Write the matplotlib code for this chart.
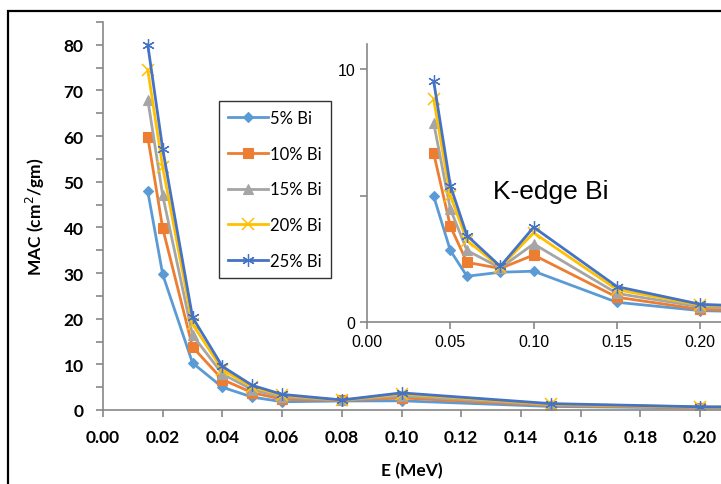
import matplotlib
matplotlib.use("Agg")
import matplotlib.pyplot as plt
from matplotlib.patches import Rectangle
import numpy as np

# ---- data ----
energy = [0.015, 0.02, 0.03, 0.04, 0.05, 0.06, 0.08, 0.10, 0.15, 0.20, 0.30]
series_names = ["5% Bi", "10% Bi", "15% Bi", "20% Bi", "25% Bi"]
bi5  = [47.9, 29.7, 10.3, 4.98, 2.83, 1.81, 1.97, 2.01, 0.78, 0.45, 0.30]
bi10 = [59.8, 39.8, 13.8, 6.68, 3.79, 2.36, 2.12, 2.65, 0.98, 0.50, 0.33]
bi15 = [68.0, 47.0, 16.4, 7.88, 4.47, 2.83, 2.14, 3.09, 1.13, 0.60, 0.38]
bi20 = [74.5, 53.2, 18.8, 8.81, 5.00, 3.22, 2.17, 3.53, 1.28, 0.67, 0.42]
bi25 = [80.0, 57.2, 20.3, 9.53, 5.40, 3.42, 2.20, 3.75, 1.40, 0.70, 0.45]
main_xticks = [0.00, 0.02, 0.04, 0.06, 0.08, 0.10, 0.12, 0.14, 0.16, 0.18, 0.20]
main_yticks = [0, 10, 20, 30, 40, 50, 60, 70, 80]
inset_xticks = [0.00, 0.05, 0.10, 0.15, 0.20]
inset_start = 3  # inset starts at 0.04 MeV

colors = ["#5B9BD5", "#ED7D31", "#A5A5A5", "#FFC000", "#4472C4"]
markers = ["D", "s", "^", "x", (6, 2, 0)]
msizes = [5, 7, 7, 8, 9]
mews = [0.8, 0.8, 0.8, 1.1, 0.9]
series = [bi5, bi10, bi15, bi20, bi25]

W, H = 721, 485
fig = plt.figure(figsize=(W / 100, H / 100), dpi=100)

# chart border (left and top visible)
fig.patches.append(Rectangle((8 / W, -0.1), 1.2, (H - 12) / H + 0.1, transform=fig.transFigure,
                             fill=False, edgecolor="black", linewidth=1.6, zorder=0))

def px_axes(l, t, r, b):
    return fig.add_axes([l / W, 1 - b / H, (r - l) / W, (b - t) / H])

grey = "#888888"
ax = px_axes(103, 23, 721, 411)
for s, c, m, ms, mew, name in zip(series, colors, markers, msizes, mews, series_names):
    ax.plot(energy, s, color=c, marker=m, markersize=ms, linewidth=2, label=name,
            markeredgewidth=mew)
ax.set_xlim(0, (721 - 103) / 2985.0)
ax.set_ylim(0, 85)
ax.set_xticks(main_xticks)
ax.set_xticklabels([f"{v:.2f}" for v in main_xticks])
ax.set_yticks(main_yticks)
ax.set_yticks(np.arange(0, 86, 5), minor=True)
for sp in ["top", "right"]:
    ax.spines[sp].set_visible(False)
for sp in ["left", "bottom"]:
    ax.spines[sp].set_color(grey)
    ax.spines[sp].set_linewidth(1.2)
ax.tick_params(axis="both", which="both", color=grey, width=1.2, direction="out", length=5)
ax.tick_params(axis="x", pad=9)
ax.tick_params(axis="y", pad=9)
for lbl in ax.get_xticklabels() + ax.get_yticklabels():
    lbl.set_fontfamily("Lato")
    lbl.set_fontweight("bold")
    lbl.set_fontsize(12.5)
ax.set_xlabel("E (MeV)", fontfamily="Lato", fontweight="bold", fontsize=12.5, labelpad=12)
ax.set_ylabel("MAC (cm$^2$/gm)", fontfamily="Lato", fontweight="bold", fontsize=12.5, labelpad=12)

leg = ax.legend(loc="upper left", bbox_to_anchor=((219 - 103) / 618, (411 - 102) / 388),
                frameon=True, fancybox=False, edgecolor="black", borderpad=0.55,
                borderaxespad=0, labelspacing=1.18, handlelength=2.4, handletextpad=0.1,
                prop={"family": "Lato", "size": 12})
leg.get_frame().set_linewidth(1.0)

# inset
ai = px_axes(367, 45, 721, 323)
for s, c, m, ms, mew in zip(series, colors, markers, msizes, mews):
    ai.plot(energy[inset_start:], s[inset_start:], color=c, marker=m, markersize=ms,
            linewidth=2, markeredgewidth=mew)
ai.set_xlim(0, (721 - 367) / 1666.7)
ai.set_ylim(0, 11)
ai.set_xticks(inset_xticks)
ai.set_xticklabels([f"{v:.2f}" for v in inset_xticks])
ai.set_yticks([0, 5, 10])
ai.set_yticklabels(["0", "", "10"])
for sp in ["top", "right"]:
    ai.spines[sp].set_visible(False)
for sp in ["left", "bottom"]:
    ai.spines[sp].set_color(grey)
    ai.spines[sp].set_linewidth(1.2)
ai.tick_params(axis="both", color=grey, width=1.2, length=5, labelsize=11.5)
for lbl in ai.get_xticklabels() + ai.get_yticklabels():
    lbl.set_fontfamily("Liberation Sans")
ai.text(0.110, 5.2, "K-edge Bi", fontsize=19, fontfamily="Liberation Sans",
        ha="center", va="center")

fig.savefig("out.png", dpi=100)
